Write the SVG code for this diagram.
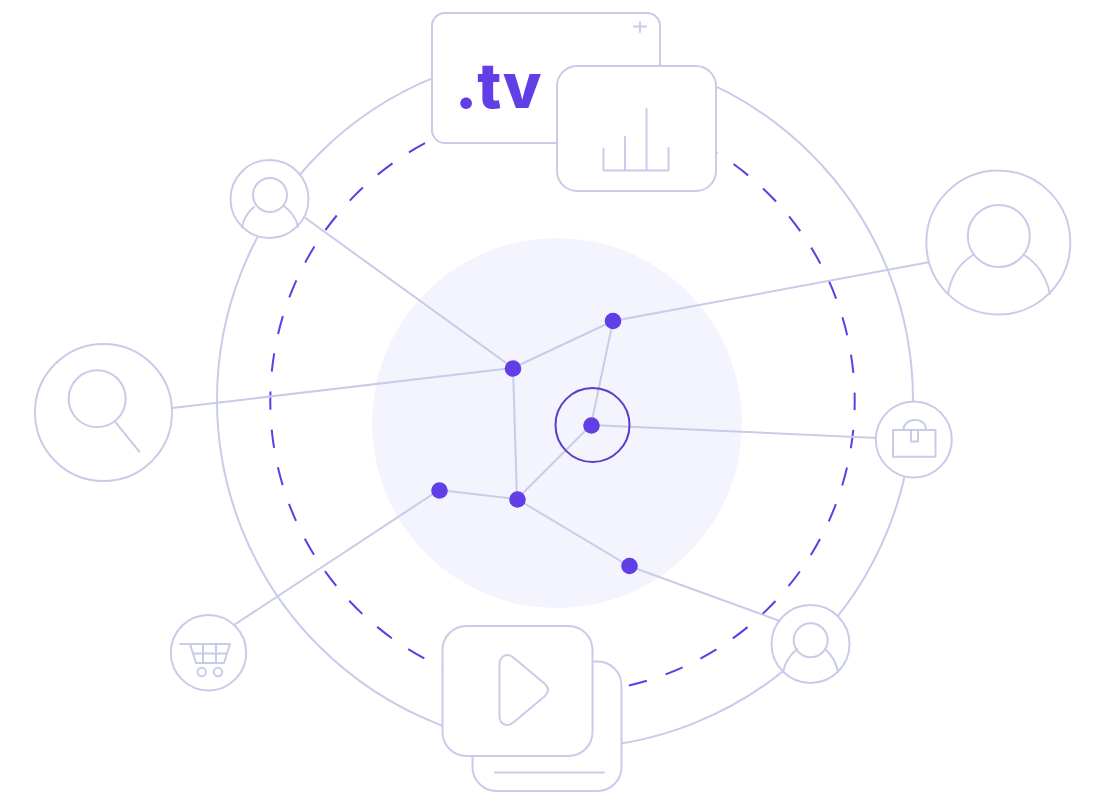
<svg xmlns="http://www.w3.org/2000/svg" width="1104" height="800" viewBox="0 0 1104 800">
<style>
.l{fill:none;stroke:#c8cce9;stroke-width:2;stroke-linecap:round;stroke-linejoin:round}
.c{fill:#fff;stroke:#c8cce9;stroke-width:2}
.d{fill:#613ee6}
</style>
<rect width="1104" height="800" fill="#fff"/>
<circle cx="557" cy="423" r="185" fill="#f3f4fe"/>
<circle cx="565" cy="400" r="348" fill="none" stroke="#c8cce9" stroke-width="2"/>
<circle cx="562.500" cy="401" r="292.200" fill="none" stroke="#5f3de6" stroke-width="2" stroke-dasharray="18.500 19.750" stroke-dashoffset="9.250"/>
<g id="connectors" class="l">
<path d="M304 217L513 368M172 408L513 368M513 368L613 321M613 321L930 262M613 321L591 425M513 368L517 499M591 425L517 499M591 425L878 438M439 490L517 499M439 490L234 625M517 499L629 566M629 566L780 621"/>
</g>
<circle cx="592.500" cy="425" r="37" fill="none" stroke="#5b3dc8" stroke-width="2"/>
<g id="dots" class="d">
<circle cx="513" cy="368.500" r="8.300"/><circle cx="613" cy="321" r="8.300"/><circle cx="591.500" cy="425.500" r="8.300"/><circle cx="439.500" cy="490.500" r="8.300"/><circle cx="517.500" cy="499.500" r="8.300"/><circle cx="629.500" cy="566" r="8.300"/>
</g>
<g id="tv-card">
<rect class="c" x="432" y="13" width="228" height="130" rx="13"/>
<path class="l" d="M640 22V32M634 26.500H646" stroke-width="1.500"/>
<text x="455" y="107.500" font-family="Inter, 'Liberation Sans', sans-serif" font-weight="800" font-size="63" fill="#613ee6">.tv</text>
</g>
<g id="chart-card">
<rect class="c" x="557" y="66" width="159" height="125" rx="20"/>
<path class="l" d="M603.500 149V170.500H668.500V148M625 137V170.500M646.500 109V170.500"/>
</g>
<g id="video-card">
<rect class="c" x="472.500" y="661.500" width="149" height="129.500" rx="24"/>
<path class="l" d="M495 772.500H604"/>
<rect class="c" x="442.500" y="626" width="150" height="130" rx="24"/>
<path class="l" d="M499.500 665C499.500 656 507 652 514 658L545 684C549 688 549 692 545 696L514 722C507 728 499.500 724 499.500 716Z"/>
</g>
<g id="user-top">
<circle class="c" cx="269.500" cy="199" r="39"/>
<circle class="l" cx="270" cy="195" r="17"/>
<path class="l" d="M242 227C244 217 248 212 254 207M298 227C296 217 291 212 284 206"/>
</g>
<g id="user-large">
<circle class="c" cx="998.300" cy="242.500" r="72"/>
<circle class="l" cx="998.800" cy="236" r="31"/>
<path class="l" d="M948 294C951 276 960 263 973 255M1050 294C1046 276 1037 263 1024 255"/>
</g>
<g id="search">
<circle class="c" cx="103.500" cy="412.500" r="68.500"/>
<circle class="l" cx="97.200" cy="398.700" r="28.500"/>
<path class="l" d="M115 421.700L139.300 451.700"/>
</g>
<g id="bag">
<circle class="c" cx="913.800" cy="439.500" r="38"/>
<rect class="l" x="893" y="430" width="42.500" height="26.700"/>
<path class="l" d="M903.500 430C903.500 424 908 420 915 420S926 424 926 430M911 430V441.500H918V430"/>
</g>
<g id="cart">
<circle class="c" cx="208.500" cy="652.700" r="37.700"/>
<path class="l" d="M180 644H190L196 663H224L230 644H190M193 653.500H227M203 644V663M216 644V663"/>
<circle class="l" cx="201.700" cy="672" r="4.200"/><circle class="l" cx="218" cy="672" r="4.200"/>
</g>
<g id="user-bottom">
<circle class="c" cx="810.500" cy="644" r="39"/>
<circle class="l" cx="810.700" cy="640.300" r="17"/>
<path class="l" d="M783 672C785 662 790 655 797 649M838 672C836 662 832 655 825 649"/>
</g>
</svg>
